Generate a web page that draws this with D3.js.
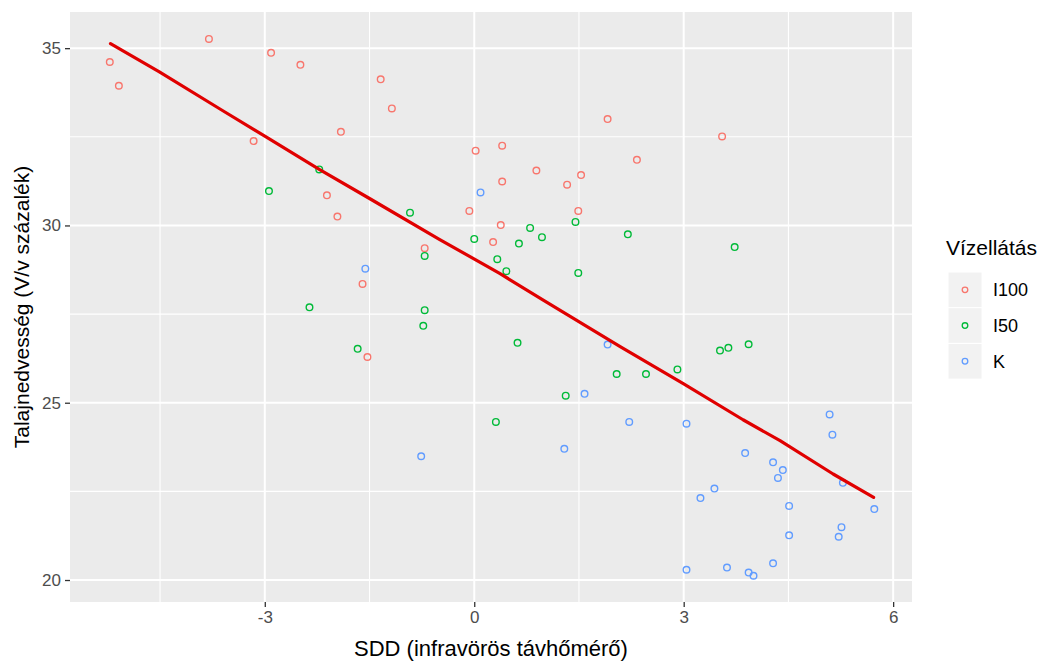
<!DOCTYPE html>
<html>
<head>
<meta charset="utf-8">
<script src="https://cdn.jsdelivr.net/npm/d3@7"></script>
<style>
  html, body { margin: 0; padding: 0; background: #fff; }
  svg { display: block; font-family: "Liberation Sans", Arial, sans-serif; }
</style>
</head>
<body>
<svg id="chart" width="1045" height="662"></svg>
<script>
// ---- data ----
const categories = ["I100", "I50", "K"];
const colors = ["#F8766D", "#00BA38", "#619CFF"];

const i100X = [-5.22, -5.09, -3.80, -2.91, -2.49, -1.91, -3.16, -2.11, -1.96, -1.34, -1.18, 0.02, 0.40, 0.89, 0.40, 1.33, 1.53, 1.91, 2.33, -0.07, 1.49, 3.55, 0.38, 0.27, -0.71, -1.60, -1.53];
const i100Y = [34.61, 33.94, 35.26, 34.87, 34.53, 32.64, 32.38, 30.85, 30.25, 34.12, 33.30, 32.11, 32.25, 31.55, 31.24, 31.15, 31.42, 33.00, 31.85, 30.41, 30.41, 32.51, 30.01, 29.53, 29.36, 28.35, 26.29];

const i50X = [-2.22, -2.94, -0.92, 1.45, 0.80, 0.97, 0.00, 0.64, 2.20, -0.71, 0.33, 0.46, 1.49, -0.71, -0.73, 0.62, -1.67, 2.04, 1.31, 0.31, -2.36, 3.73, 3.52, 3.64, 3.93, 2.46, 2.91];
const i50Y = [31.58, 30.97, 30.36, 30.10, 29.93, 29.67, 29.62, 29.49, 29.75, 29.14, 29.05, 28.71, 28.66, 27.61, 27.17, 26.69, 26.52, 25.81, 25.20, 24.46, 27.69, 29.39, 26.47, 26.55, 26.65, 25.81, 25.94];

const kX = [0.09, -1.56, 1.91, 1.58, 2.22, 5.09, -0.76, 1.29, 3.04, 5.13, 3.88, 4.28, 4.42, 4.35, 5.28, 3.44, 3.24, 4.51, 5.73, 5.26, 5.22, 4.51, 4.28, 3.04, 3.62, 3.93, 4.00];
const kY = [30.93, 28.78, 26.64, 25.25, 24.46, 24.67, 23.49, 23.70, 24.41, 24.10, 23.58, 23.32, 23.10, 22.88, 22.74, 22.58, 22.31, 22.09, 22.00, 21.49, 21.22, 21.26, 20.47, 20.29, 20.35, 20.21, 20.12];

const fitX = [-5.21, -4.51, -3.63, -3.00, -2.22, -1.50, -0.50, 0.37, 1.00, 2.09, 3.00, 3.85, 4.38, 5.14, 5.72];
const fitY = [35.13, 34.33, 33.27, 32.52, 31.58, 30.76, 29.61, 28.64, 27.88, 26.58, 25.53, 24.52, 23.93, 22.99, 22.33];

const xTicks = [-3, 0, 3, 6];
const xMinor = [-4.5, -1.5, 1.5, 4.5];
const yTicks = [20, 25, 30, 35];
const yMinor = [22.5, 27.5, 32.5];

const xTitle = "SDD (infravörös távhőmérő)";
const yTitle = "Talajnedvesség (V/v százalék)";
const legendTitle = "Vízellátás";

// ---- layout ----
const panel = { left: 70, right: 912, top: 12, bottom: 602 };
const svg = d3.select("#chart");

const x = d3.scaleLinear().domain([-5.79, 6.27]).range([panel.left, panel.right]);
const y = d3.scaleLinear().domain([19.38, 36.02]).range([panel.bottom, panel.top]);

// panel background
svg.append("rect")
  .attr("x", panel.left).attr("y", panel.top)
  .attr("width", panel.right - panel.left).attr("height", panel.bottom - panel.top)
  .attr("fill", "#EBEBEB");

const grid = svg.append("g");
grid.selectAll(".vminor").data(xMinor).enter().append("line")
  .attr("x1", d => x(d)).attr("x2", d => x(d))
  .attr("y1", panel.top).attr("y2", panel.bottom)
  .attr("stroke", "#fff").attr("stroke-width", 1.1);
grid.selectAll(".hminor").data(yMinor).enter().append("line")
  .attr("y1", d => y(d)).attr("y2", d => y(d))
  .attr("x1", panel.left).attr("x2", panel.right)
  .attr("stroke", "#fff").attr("stroke-width", 1.1);
grid.selectAll(".vmajor").data(xTicks).enter().append("line")
  .attr("x1", d => x(d)).attr("x2", d => x(d))
  .attr("y1", panel.top).attr("y2", panel.bottom)
  .attr("stroke", "#fff").attr("stroke-width", 2);
grid.selectAll(".hmajor").data(yTicks).enter().append("line")
  .attr("y1", d => y(d)).attr("y2", d => y(d))
  .attr("x1", panel.left).attr("x2", panel.right)
  .attr("stroke", "#fff").attr("stroke-width", 2);

// axes
const xAxis = d3.axisBottom(x).tickValues(xTicks).tickSize(5).tickPadding(4);
const gx = svg.append("g").attr("transform", `translate(0,${panel.bottom})`).call(xAxis);
gx.select(".domain").remove();
gx.selectAll(".tick line").attr("stroke", "#333").attr("stroke-width", 1.3);
gx.selectAll(".tick text").attr("fill", "#4D4D4D").attr("font-size", 17)
  .attr("font-family", "Liberation Sans, Arial, sans-serif").text(d => d < 0 ? "-" + Math.abs(d) : d);

const yAxis = d3.axisLeft(y).tickValues(yTicks).tickSize(5).tickPadding(4);
const gy = svg.append("g").attr("transform", `translate(${panel.left},0)`).call(yAxis);
gy.select(".domain").remove();
gy.selectAll(".tick line").attr("stroke", "#333").attr("stroke-width", 1.3);
gy.selectAll(".tick text").attr("fill", "#4D4D4D").attr("font-size", 17)
  .attr("font-family", "Liberation Sans, Arial, sans-serif");

// points
const series = [
  { name: categories[0], xs: i100X, ys: i100Y, color: colors[0] },
  { name: categories[1], xs: i50X, ys: i50Y, color: colors[1] },
  { name: categories[2], xs: kX, ys: kY, color: colors[2] }
];
const pts = svg.append("g");
series.forEach(s => {
  const data = s.xs.map((v, i) => ({ x: v, y: s.ys[i] }));
  pts.selectAll(null).data(data).enter().append("circle")
    .attr("cx", d => x(d.x)).attr("cy", d => y(d.y))
    .attr("r", 3.3)
    .attr("fill", "none")
    .attr("stroke", s.color)
    .attr("stroke-width", 1.4);
});

// fitted line
const fitData = fitX.map((v, i) => ({ x: v, y: fitY[i] }));
svg.append("path")
  .datum(fitData)
  .attr("d", d3.line().x(d => x(d.x)).y(d => y(d.y)))
  .attr("fill", "none")
  .attr("stroke", "#E00000")
  .attr("stroke-width", 3.2)
  .attr("stroke-linejoin", "round")
  .attr("stroke-linecap", "round");

// axis titles
svg.append("text")
  .attr("x", (panel.left + panel.right) / 2).attr("y", 656)
  .attr("text-anchor", "middle").attr("font-size", 22).attr("fill", "#000")
  .text(xTitle);
svg.append("text")
  .attr("transform", `translate(29,${(panel.top + panel.bottom) / 2}) rotate(-90)`)
  .attr("text-anchor", "middle").attr("font-size", 21).attr("fill", "#000")
  .text(yTitle);

// legend
const lg = svg.append("g");
lg.append("text").attr("x", 946).attr("y", 255).attr("font-size", 21).attr("fill", "#000").text(legendTitle);
const keyH = 35.7;
series.forEach((s, i) => {
  const ky = 272 + i * keyH;
  lg.append("rect").attr("x", 948).attr("y", ky).attr("width", 34).attr("height", keyH)
    .attr("fill", "#F2F2F2").attr("stroke", "#fff").attr("stroke-width", 1);
  lg.append("circle").attr("cx", 965).attr("cy", ky + keyH / 2).attr("r", 2.8)
    .attr("fill", "none").attr("stroke", s.color).attr("stroke-width", 1.3);
  lg.append("text").attr("x", 993).attr("y", ky + keyH / 2).attr("dy", "0.35em")
    .attr("font-size", 18).attr("fill", "#000").text(s.name);
});
</script>
</body>
</html>
